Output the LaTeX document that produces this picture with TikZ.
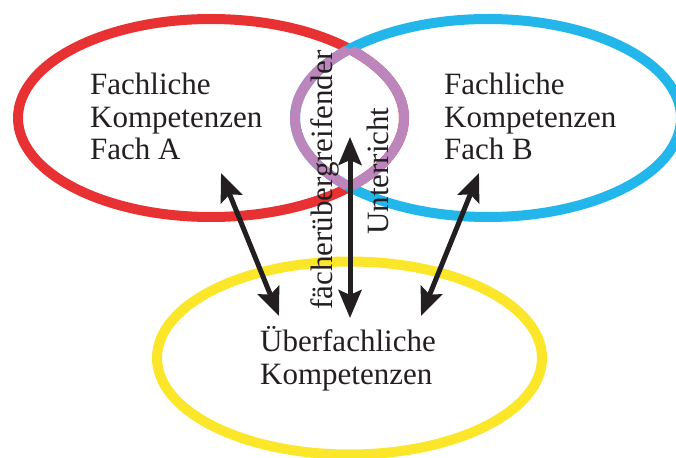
\documentclass[tikz,border=0pt]{standalone}
\usepackage{fontspec}
\setmainfont{Liberation Serif}
\usetikzlibrary{arrows.meta}
\definecolor{setA}{HTML}{E83132}
\definecolor{setB}{HTML}{22B6EA}
\definecolor{setC}{HTML}{FCE629}
\definecolor{overlap}{HTML}{BC86BC}
\definecolor{ink}{HTML}{231F20}
\begin{document}
\begin{tikzpicture}[x=1pt,y=-1pt,
  ring/.style={line width=10pt},
  txt/.style={inner sep=0pt, align=left, text=ink,
    font=\fontsize{31}{32.5}\selectfont},
  link/.style={line width=5pt, draw=ink,
    arrows={Stealth[length=28pt,width=23pt,inset=5pt]-Stealth[length=28pt,width=23pt,inset=5pt]}}]
  \useasboundingbox (0,0) rectangle (676,457);
  \clip (0,0) rectangle (676,457);

  % the three competence areas
  \def\areaA{(211,118) ellipse [x radius=193pt, y radius=99pt]}
  \def\areaB{(488,118) ellipse [x radius=193pt, y radius=99pt]}
  \def\areaC{(349.5,358) ellipse [x radius=192.5pt, y radius=96.5pt]}
  \draw[ring, setC] \areaC;
  \draw[ring, setA] \areaA;
  \draw[ring, setB] \areaB;

  % common part of subjects A and B
  \begin{scope}
    \clip \areaB;
    \draw[ring, overlap] \areaA;
  \end{scope}
  \begin{scope}
    \clip \areaA;
    \draw[ring, overlap] \areaB;
  \end{scope}

  % labels (anchored at the baseline of their last line)
  \node[txt, anchor=base west] (fa) at (90,160) {Fachliche\\Kompetenzen\\Fach A};
  \node[txt, anchor=base west] (fb) at (444,160) {Fachliche\\Kompetenzen\\Fach B};
  \node[txt, anchor=base west] (ue) at (260,384) {Überfachliche\\Kompetenzen};
  \node[txt, anchor=base west, rotate=90] (fu1) at (332,310) {fächerübergreifender};
  \node[txt, anchor=base west, rotate=90] (fu2) at (388,235) {Unterricht};

  % arrow ends
  \coordinate (a1) at (221,173);
  \coordinate (a2) at (279,316);
  \coordinate (m1) at (350,137);
  \coordinate (m2) at (350,318);
  \coordinate (b1) at (479,173);
  \coordinate (b2) at (421,316);

  \draw[link] (a1) -- (a2);
  \draw[link] (m1) -- (m2);
  \draw[link] (b1) -- (b2);
\end{tikzpicture}
\end{document}
